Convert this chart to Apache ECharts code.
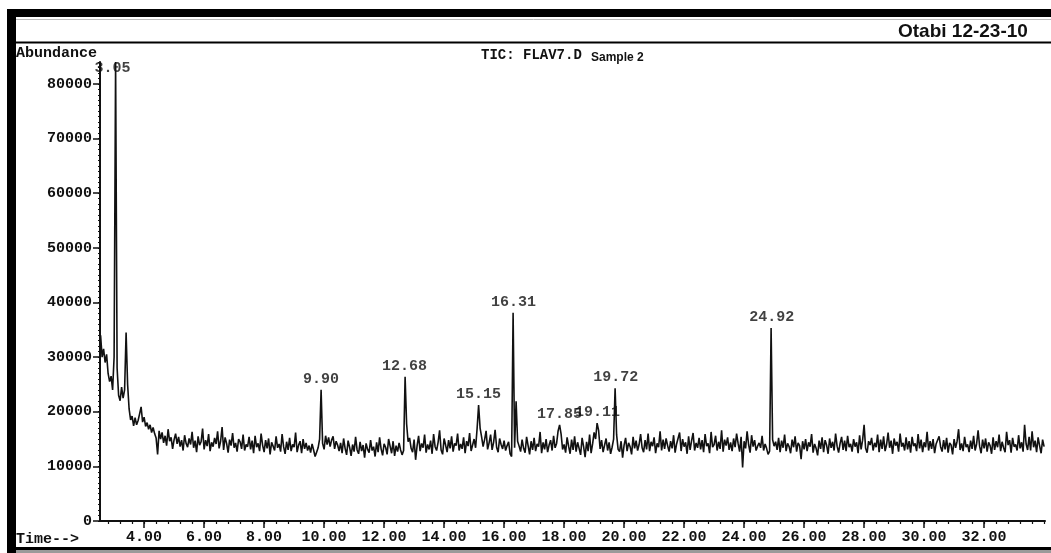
<!DOCTYPE html>
<html>
<head>
<meta charset="utf-8">
<title>TIC: FLAV7.D Sample 2</title>
<script src="https://cdn.jsdelivr.net/npm/echarts@6/dist/echarts.min.js"></script>
<style>
  html, body { margin: 0; padding: 0; background: #fff; }
  #chart { width: 1051px; height: 553px; }
</style>
</head>
<body>
<div id="chart"></div>
<script>
  // scan grid of the trace (minutes)
  const scanStart = 2.55
  const scanStep = 0.05

  // abundance, in thousands, one row per minute
  const abundanceK = [
    34.0, 30.0, 31.5, 29.0, 30.5, 27.0, 25.5, 26.5, 24.0, 30.0, 84.0, 28.0, 23.0, 22.0, 24.5, 22.5, 24.0, 34.5, 25.0, 20.5,
    18.5, 19.2, 17.4, 18.9, 17.6, 18.4, 19.6, 20.9, 18.1, 19.0, 17.3, 18.0, 16.8, 17.6, 16.2, 17.1, 16.0, 15.2, 12.2, 16.5,
    15.0, 16.2, 14.3, 15.6, 13.8, 16.8, 14.6, 15.3, 13.2, 14.9, 16.0, 14.1, 15.4, 13.6, 14.8, 12.9, 15.7, 14.2, 13.5, 15.1,
    14.0, 16.3, 13.4, 14.7, 12.6, 15.5, 13.9, 14.5, 16.9, 13.1, 14.8, 13.7, 15.9, 12.8, 14.4, 13.6, 15.2, 14.1, 16.4, 13.3,
    14.6, 17.2, 13.0, 15.3, 14.2, 12.5, 14.9, 13.8, 16.1, 13.4, 14.3, 12.7, 15.0, 14.5, 13.2, 15.8, 12.9, 14.0, 13.6, 15.4,
    13.1, 14.7, 12.4, 15.6, 13.5, 14.2, 12.8, 16.0, 13.9, 12.6, 14.8, 13.3, 15.1, 12.2, 14.4, 13.7, 12.9, 15.5, 13.4, 14.1,
    12.7, 15.9, 13.6, 12.3, 14.5, 13.0, 15.2, 12.8, 14.0, 13.5, 16.2, 12.6, 13.9, 14.6, 12.4, 15.0, 13.2, 14.3, 12.9, 13.8,
    12.5, 14.1, 13.0, 11.8, 12.6, 13.4, 15.0, 24.0, 14.2, 13.1, 15.6, 14.0, 15.3, 13.6, 14.8, 15.5, 13.2, 14.6, 13.9, 12.8,
    14.3, 12.4, 15.1, 13.3, 12.1, 14.7, 13.5, 11.9, 14.0, 12.7, 15.4, 13.0, 12.3, 14.5, 12.8, 13.9, 11.6, 14.2, 13.1, 12.5,
    14.8, 12.9, 13.6, 11.8, 14.4, 12.6, 15.3, 13.2, 12.0, 14.1, 13.5, 12.2, 15.0, 13.7, 12.4, 14.6, 11.9, 13.8, 12.7, 14.3,
    13.0, 12.1, 12.9, 26.4, 17.8, 14.5, 15.2, 13.3, 12.6, 14.9, 11.2, 13.8, 15.6, 12.8, 14.2, 13.4, 15.8, 12.5, 14.0, 13.1,
    14.7, 12.3, 15.9, 13.6, 12.9, 14.4, 16.6, 13.0, 12.2, 15.1, 13.9, 12.6, 14.8, 13.3, 15.5, 12.7, 14.2, 13.8, 16.0, 12.9,
    14.1, 13.2, 15.3, 12.4, 14.6, 13.7, 16.1, 12.8, 13.9, 15.0, 13.4, 16.9, 21.2, 17.0, 15.4, 13.6, 14.9, 16.5, 13.1, 14.3,
    15.8, 13.0, 14.4, 16.7, 13.5, 12.6, 15.1, 14.0, 13.2, 14.7, 12.9, 13.8, 14.5, 12.3, 11.8, 38.1, 13.4, 21.9, 14.6, 13.7,
    12.7, 14.9, 13.3, 12.5, 15.4, 13.8, 12.2, 14.6, 13.0, 15.2, 12.8, 14.1, 13.6, 16.3, 12.4, 14.4, 13.1, 15.0, 12.6, 13.9,
    14.8, 12.9, 15.6, 13.4, 14.2, 16.5, 17.6, 15.9, 13.1, 14.0, 12.5, 15.3, 13.7, 12.3, 14.9, 13.0, 15.5, 12.7, 14.4, 13.3,
    12.1, 15.2, 13.6, 11.7, 14.5, 12.8, 15.8, 12.4, 14.1, 16.2, 15.0, 17.9, 16.6, 13.2, 14.8, 12.6, 13.9, 15.1, 12.9, 14.4,
    12.3, 13.5, 15.0, 24.3, 15.8, 13.1, 12.7, 14.6, 11.6, 13.9, 15.2, 12.8, 14.3, 13.6, 12.2, 15.4, 13.3, 14.7, 12.9, 14.0,
    15.9, 13.4, 12.6, 14.8, 13.1, 16.0, 12.8, 14.5, 13.7, 15.3, 12.4, 14.2, 13.5, 16.4, 12.9, 14.9, 13.2, 15.1, 13.8, 12.7,
    14.6, 13.3, 15.7, 12.5, 14.1, 13.9, 16.2, 12.8, 15.0, 13.6, 14.4, 12.3, 15.5, 13.0, 14.7, 16.1, 12.9, 14.3, 13.4, 15.2,
    13.1, 14.8, 12.6, 15.9, 13.7, 14.2, 12.4, 16.3, 13.5, 14.0, 15.6, 12.9, 14.5, 13.2, 16.6, 12.7, 14.9, 13.8, 15.3, 13.0,
    14.4, 12.8, 15.1, 13.5, 16.0, 14.2, 12.7, 15.4, 9.8, 14.6, 13.3, 16.4, 14.0, 12.5, 15.7, 13.6, 14.8, 12.9, 13.7, 14.3,
    13.4, 15.6, 12.9, 14.1, 13.3, 12.2, 12.8, 35.3, 14.9, 13.7, 14.5, 13.0, 15.2, 12.6, 14.7, 13.4, 15.8, 12.8, 14.2, 13.6,
    12.4, 14.9, 13.5, 15.5, 12.7, 14.3, 13.8, 11.3, 14.6, 13.1, 15.0, 12.8, 14.4, 13.6, 15.9, 12.5, 14.1, 13.3, 12.0, 14.7,
    13.2, 15.3, 12.6, 14.8, 13.9, 12.3, 15.1, 13.4, 14.5, 12.9, 16.0, 13.7, 12.5, 14.2, 15.4, 13.0, 14.7, 12.8, 15.6, 13.5,
    14.1, 12.7, 15.0, 13.6, 14.4, 12.4, 15.7, 13.1, 14.8, 17.6, 13.3, 12.5, 14.6, 13.9, 15.2, 12.9, 14.3, 13.5, 15.8, 12.6,
    14.9, 13.2, 15.5, 12.8, 14.0, 16.2, 13.4, 14.7, 12.3, 15.1, 13.8, 14.5, 12.7, 16.0, 13.6, 14.3, 12.9, 15.3, 13.1, 14.6,
    12.5, 15.4, 13.7, 14.2, 12.8, 15.9, 13.3, 14.9, 12.6, 14.4, 13.5, 16.3, 12.9, 14.6, 13.2, 15.0, 12.4, 14.1, 13.8, 15.5,
    13.6, 12.7, 14.8, 13.1, 15.2, 12.5, 14.3, 13.9, 12.2, 15.0, 13.4, 14.6, 16.8, 13.0, 14.2, 12.8, 15.4, 13.5, 14.0, 12.6,
    14.7, 13.2, 15.6, 12.9, 14.1, 16.6, 13.7, 12.4, 14.9, 13.3, 15.1, 12.7, 14.4, 13.8, 12.3, 15.3, 13.0, 14.6, 13.5, 15.8,
    12.8, 14.5, 13.4, 12.6, 16.3, 13.9, 14.8, 12.5, 15.2, 13.6, 14.0, 12.9, 15.7, 13.3, 14.4, 12.7, 17.6, 14.1, 13.0, 15.4,
    12.9, 16.4, 13.5, 14.7, 12.6, 15.3, 13.8, 12.4, 14.9, 13.6
  ]

  // labelled peaks (retention time, apex in thousands)
  const peakTimes = [3.05, 9.90, 12.68, 15.15, 16.31, 17.85, 19.11, 19.72, 24.92]
  const peakTopsK = [84.0, 24.0, 26.4, 21.2, 38.1, 17.6, 17.9, 24.3, 35.3]
  const peakLabels = ['3.05', '9.90', '12.68', '15.15', '16.31', '17.85', '19.11', '19.72', '24.92']

  const xTickLabels = [4, 6, 8, 10, 12, 14, 16, 18, 20, 22, 24, 26, 28, 30, 32]
  const yTickLabels = [0, 10000, 20000, 30000, 40000, 50000, 60000, 70000, 80000]

  const mono = '"Liberation Mono", "DejaVu Sans Mono", monospace'
  const narrow = '"Liberation Sans Narrow", "Liberation Sans", sans-serif'
  const ink = '#111'

  const trace = abundanceK.map((v, i) => [+(scanStart + i * scanStep).toFixed(2), v * 1000])
  const peaks = peakTimes.map((t, i) => {
    const item = { value: [t, peakTopsK[i] * 1000], name: peakLabels[i] }
    if (i === 0) item.label = { offset: [-3, 17] }
    return item
  })

  // minor tick positions
  const xMinor = []
  for (let t = 2.8; t < 34.0; t += 0.4) xMinor.push(+t.toFixed(2))
  const yMinor = []
  for (let v = 0; v <= 84000; v += 1000) yMinor.push(v)

  const myChart = echarts.init(document.getElementById('chart'), null, { renderer: 'canvas' })
  myChart.setOption({
    animation: false,
    backgroundColor: '#fff',
    title: [
      { text: 'Abundance', left: 11, top: 41, textStyle: { fontFamily: mono, fontSize: 15, fontWeight: 'bold', color: ink } },
      { text: 'TIC: FLAV7.D', left: 476, top: 43, textStyle: { fontFamily: mono, fontSize: 14, fontWeight: 'bold', color: ink } },
      { text: 'Sample 2', left: 586, top: 47, textStyle: { fontFamily: narrow, fontSize: 12, fontWeight: 'bold', color: ink } },
      { text: 'Otabi 12-23-10', left: 893, top: 17, textStyle: { fontFamily: narrow, fontSize: 19, fontWeight: 'bold', color: ink } },
      { text: 'Time-->', left: 11, top: 527, textStyle: { fontFamily: mono, fontSize: 15, fontWeight: 'bold', color: ink } }
    ],
    grid: { left: 100, right: 6, top: 62, bottom: 32 },
    xAxis: [
      {
        type: 'value', min: 2.53, max: 34.03,
        axisLine: { lineStyle: { color: ink, width: 2 } },
        axisTick: { customValues: xTickLabels, length: 7, lineStyle: { color: ink, width: 1.5 } },
        axisLabel: {
          customValues: xTickLabels, margin: 9,
          formatter: (v) => v.toFixed(2),
          fontFamily: mono, fontSize: 15, fontWeight: 'bold', color: ink
        },
        splitLine: { show: false }
      },
      {
        type: 'value', min: 2.53, max: 34.03, position: 'bottom',
        axisLine: { show: false },
        axisTick: { customValues: xMinor, length: 3, lineStyle: { color: ink, width: 1.2 } },
        axisLabel: { show: false },
        splitLine: { show: false }
      }
    ],
    yAxis: [
      {
        type: 'value', min: 0, max: 84000,
        axisLine: { show: true, lineStyle: { color: ink, width: 2 } },
        axisTick: { show: true, customValues: yTickLabels, length: 7, lineStyle: { color: ink, width: 1.5 } },
        axisLabel: {
          customValues: yTickLabels, margin: 8,
          formatter: (v) => String(v),
          fontFamily: mono, fontSize: 15, fontWeight: 'bold', color: ink
        },
        splitLine: { show: false }
      },
      {
        type: 'value', min: 0, max: 84000, position: 'left',
        axisLine: { show: false },
        axisTick: { show: true, customValues: yMinor, length: 2, lineStyle: { color: ink, width: 1.2 } },
        axisLabel: { show: false },
        splitLine: { show: false }
      }
    ],
    series: [
      {
        name: 'TIC',
        type: 'line',
        data: trace,
        showSymbol: false,
        symbol: 'none',
        lineStyle: { color: ink, width: 1.6 },
        z: 3
      },
      {
        name: 'peaks',
        type: 'scatter',
        data: peaks,
        symbolSize: 0,
        label: {
          show: true, position: 'top', distance: 3,
          formatter: (p) => p.name,
          fontFamily: mono, fontSize: 15, fontWeight: 'bold', color: ink
        },
        z: 4
      }
    ],
    graphic: [
      { type: 'rect', shape: { x: 7, y: 9, width: 9, height: 544 }, style: { fill: '#000' } },
      { type: 'rect', shape: { x: 7, y: 9, width: 1044, height: 8 }, style: { fill: '#000' } },
      { type: 'line', shape: { x1: 16, y1: 19.5, x2: 1051, y2: 19.5 }, style: { stroke: '#bbb', lineWidth: 1 } },
      { type: 'rect', shape: { x: 16, y: 41.5, width: 1035, height: 2 }, style: { fill: '#000' } },
      { type: 'rect', shape: { x: 16, y: 547, width: 1035, height: 3 }, style: { fill: '#000' } },
      { type: 'rect', shape: { x: 16, y: 550, width: 1035, height: 3 }, style: { fill: '#9a9a9a' } }
    ]
  })

  window.addEventListener('resize', function () {
    myChart.resize()
  })
</script>
</body>
</html>
